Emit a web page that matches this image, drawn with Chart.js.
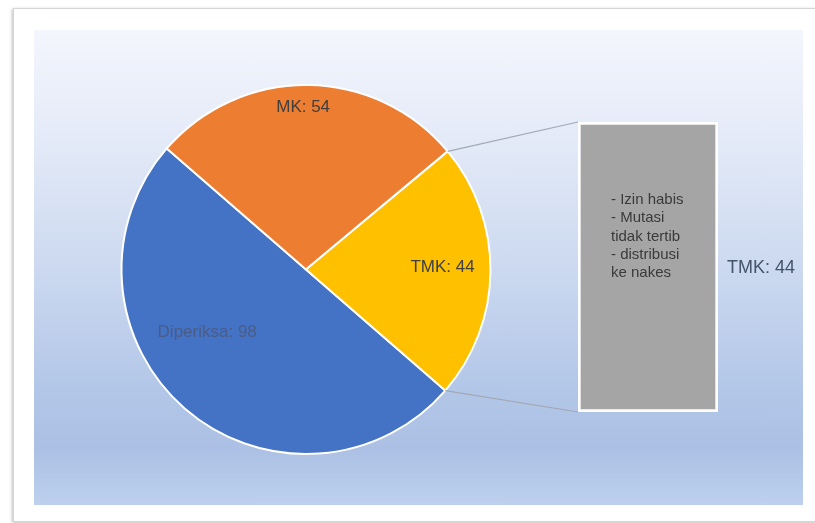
<!DOCTYPE html>
<html>
<head>
<meta charset="utf-8">
<script src="https://cdn.jsdelivr.net/npm/chart.js@4"></script>
<style>
  html, body { margin: 0; padding: 0; background: #ffffff; }
  #page { position: relative; width: 815px; height: 523px; overflow: hidden; }
  #frame { position: absolute; left: 13px; top: 8px; width: 820px; height: 512px; background: #ffffff;
           border: 1px solid #d4d4d4; box-shadow: -1px 1px 3px rgba(0,0,0,0.25); }
  #plot { position: absolute; left: 34px; top: 30px; width: 769px; height: 475px;
          background: linear-gradient(to bottom, #f4f6fd 0%, #e2e9f7 25%, #ccd9f0 50%, #b3c7e8 75%, #abc0e4 88%, #bdd0ee 100%); }
  canvas { position: absolute; }
</style>
</head>
<body>
<div id="page">
  <div id="frame"></div>
  <div id="plot"></div>
  <canvas id="pieChart" width="769" height="475" style="left:34px; top:30px;"></canvas>
  <canvas id="barChart" width="228" height="290" style="left:578px; top:122px;"></canvas>
</div>
<script>
// Data utama (pie)
const pieLabels = ['Diperiksa', 'MK', 'TMK'];
const pieValues = [98, 54, 44];
const pieColors = ['#4472c4', '#ed7d31', '#ffc000'];

// Rincian TMK (bar)
const barLabels = ['TMK'];
const barValues = [44];
const barNotes = ['- Izin habis', '- Mutasi', 'tidak tertib', '- distribusi', 'ke nakes'];

const FONT = '"Liberation Sans", Arial, sans-serif';

// Posisi label di dalam irisan: fraksi radius + geser sudut (derajat)
const labelPlace = [
  { f: 0.635, da: 16.5, color: '#4a5d86' },
  { f: 0.88, da: -1.6, color: '#404040' },
  { f: 0.74, da: -1.7, color: '#404040' }
];

// Bar of pie: batang abu-abu di kanan
const barPlugin = {
  id: 'barText',
  afterDatasetsDraw(chart) {
    const ctx = chart.ctx;
    const el = chart.getDatasetMeta(0).data[0];
    const left = el.x - el.width / 2;
    ctx.save();
    ctx.font = '15px ' + FONT;
    ctx.fillStyle = '#3a3a3a';
    ctx.textAlign = 'left';
    ctx.textBaseline = 'middle';
    barNotes.forEach((t, i) => {
      ctx.fillText(t, left + 33, 78 + i * 18.3);
    });
    ctx.font = '18px ' + FONT;
    ctx.fillStyle = '#44546a';
    ctx.fillText(barLabels[0] + ': ' + barValues[0], el.x + el.width / 2 + 9, (el.y + el.base) / 2 + 1);
    ctx.restore();
  }
};

const barChart = new Chart(document.getElementById('barChart'), {
  type: 'bar',
  data: {
    labels: barLabels,
    datasets: [{
      data: barValues,
      backgroundColor: '#a5a5a5',
      borderColor: '#ffffff',
      borderWidth: 3,
      borderSkipped: false,
      barPercentage: 1,
      categoryPercentage: 1
    }]
  },
  options: {
    responsive: false,
    animation: false,
    layout: { padding: { left: 0, top: 0, bottom: 0, right: 88 } },
    plugins: { legend: { display: false }, tooltip: { enabled: false } },
    scales: {
      x: { display: false },
      y: { display: false, min: 0, max: 44 }
    }
  },
  plugins: [barPlugin]
});

// Label irisan + garis penghubung ke batang
const piePlugin = {
  id: 'pieExtras',
  afterDatasetsDraw(chart) {
    const ctx = chart.ctx;
    const arcs = chart.getDatasetMeta(0).data;
    ctx.save();
    ctx.font = '17px ' + FONT;
    ctx.textAlign = 'center';
    ctx.textBaseline = 'middle';
    arcs.forEach((a, i) => {
      const p = labelPlace[i];
      const mid = (a.startAngle + a.endAngle) / 2 + p.da * Math.PI / 180;
      const r = a.outerRadius * p.f;
      ctx.fillStyle = p.color;
      ctx.fillText(pieLabels[i] + ': ' + pieValues[i], a.x + Math.cos(mid) * r, a.y + Math.sin(mid) * r);
    });

    // garis penghubung TMK -> batang
    const tmk = arcs[2];
    const bar = barChart.getDatasetMeta(0).data[0];
    const pieCv = chart.canvas, barCv = barChart.canvas;
    const offX = barCv.offsetLeft - pieCv.offsetLeft;
    const offY = barCv.offsetTop - pieCv.offsetTop;
    const bx = offX + bar.x - bar.width / 2;
    const byTop = offY + bar.y;
    const byBot = offY + bar.base;
    ctx.strokeStyle = '#a3a9b3';
    ctx.lineWidth = 1.2;
    ctx.beginPath();
    ctx.moveTo(tmk.x + Math.cos(tmk.startAngle) * tmk.outerRadius, tmk.y + Math.sin(tmk.startAngle) * tmk.outerRadius);
    ctx.lineTo(bx, byTop);
    ctx.moveTo(tmk.x + Math.cos(tmk.endAngle) * tmk.outerRadius, tmk.y + Math.sin(tmk.endAngle) * tmk.outerRadius);
    ctx.lineTo(bx, byBot);
    ctx.stroke();
    ctx.restore();
  }
};

new Chart(document.getElementById('pieChart'), {
  type: 'pie',
  data: {
    labels: pieLabels,
    datasets: [{
      data: pieValues,
      backgroundColor: pieColors,
      borderColor: '#ffffff',
      borderWidth: 2
    }]
  },
  options: {
    responsive: false,
    animation: false,
    rotation: 131,
    layout: { padding: { left: 86, right: 311, top: 54, bottom: 50 } },
    plugins: { legend: { display: false }, tooltip: { enabled: false } }
  },
  plugins: [piePlugin]
});
</script>
</body>
</html>
